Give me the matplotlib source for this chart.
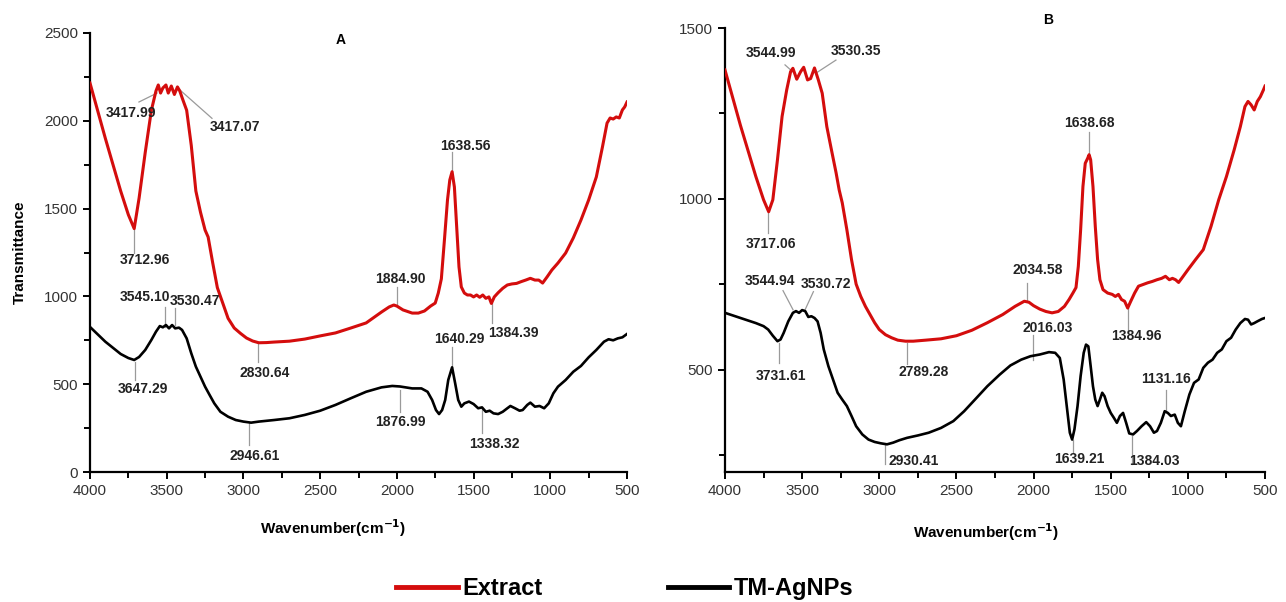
import numpy as np
import matplotlib.pyplot as plt
from matplotlib.lines import Line2D
from matplotlib.ticker import MultipleLocator

plt.rcParams['font.family'] = ['Liberation Sans', 'DejaVu Sans']

# ---- Panel A : Extract (red) ----
a_ext_w = [4000, 3900, 3800, 3750, 3712, 3680, 3640, 3600, 3570, 3555, 3540, 3525, 3505, 3490,
           3470, 3450, 3430, 3415, 3395, 3370, 3340, 3310, 3280, 3250, 3230, 3200, 3170, 3140,
           3100, 3060, 3020, 2980, 2940, 2900, 2850, 2800, 2700, 2600, 2500, 2400, 2300, 2200,
           2100, 2050, 2020, 2000, 1960, 1900, 1860, 1820, 1780, 1750, 1730, 1710, 1690, 1670,
           1655, 1640, 1625, 1610, 1595, 1580, 1560, 1540, 1520, 1500, 1480, 1460, 1440, 1420,
           1400, 1384, 1365, 1340, 1310, 1280, 1250, 1220, 1190, 1160, 1130, 1100, 1075, 1050,
           1020, 990, 950, 900, 850, 800, 750, 700, 660, 630, 610, 590, 570, 550, 530, 515, 500]
a_ext_t = [2215, 1900, 1600, 1465, 1386, 1560, 1820, 2060, 2170, 2204, 2158, 2187, 2204, 2158,
           2198, 2150, 2193, 2170, 2120, 2060, 1860, 1600, 1480, 1378, 1338, 1190, 1050, 975,
           875, 820, 790, 763, 746, 736, 737, 740, 745, 757, 775, 792, 820, 849,
           911, 940, 951, 945, 923, 905, 905, 917, 945, 962, 1019, 1100, 1321, 1549,
           1663, 1710, 1623, 1395, 1168, 1054, 1019, 1008, 1008, 997, 1008, 995, 1008, 989,
           997, 960, 997, 1021, 1046, 1065, 1071, 1074, 1084, 1093, 1103, 1093, 1093, 1076,
           1112, 1150, 1190, 1247, 1333, 1435, 1549, 1680, 1851, 1987, 2016, 2010, 2022, 2016,
           2062, 2079, 2107]

# ---- Panel A : TM-AgNPs (black) ----
a_np_w = [4000, 3900, 3800, 3750, 3712, 3680, 3640, 3600, 3570, 3545, 3525, 3505, 3485, 3465,
          3445, 3420, 3400, 3370, 3340, 3310, 3280, 3250, 3220, 3190, 3150, 3100, 3050, 3000,
          2950, 2900, 2800, 2700, 2600, 2500, 2400, 2300, 2200, 2100, 2030, 1980, 1900, 1840,
          1800, 1770, 1745, 1725, 1705, 1685, 1665, 1640, 1620, 1600, 1580, 1560, 1530, 1500,
          1470, 1445, 1420, 1395, 1370, 1340, 1310, 1280, 1260, 1230, 1200, 1180, 1150, 1130,
          1100, 1070, 1040, 1010, 980, 950, 900, 850, 800, 750, 700, 650, 620, 590, 560, 530, 500]
a_np_t = [826, 742, 672, 649, 638, 655, 695, 752, 799, 831, 824, 837, 818, 837,
          818, 822, 809, 761, 676, 600, 543, 486, 438, 391, 343, 315, 296, 287,
          281, 287, 296, 306, 325, 349, 382, 420, 457, 482, 490, 487, 476, 476,
          457, 410, 353, 330, 353, 410, 524, 596, 505, 410, 372, 391, 401, 387,
          363, 368, 343, 349, 334, 330, 343, 363, 376, 363, 349, 353, 382, 395,
          372, 376, 363, 391, 448, 486, 524, 571, 604, 653, 695, 742, 756, 750, 761, 767, 786]

# ---- Panel B : Extract (red) ----
b_ext_w = [4000, 3900, 3800, 3750, 3717, 3690, 3660, 3630, 3600, 3575, 3560, 3535, 3510, 3490,
           3465, 3445, 3420, 3395, 3370, 3340, 3310, 3280, 3260, 3240, 3210, 3180, 3150, 3120,
           3090, 3060, 3030, 3000, 2960, 2920, 2880, 2830, 2780, 2700, 2600, 2500, 2400, 2300,
           2200, 2120, 2060, 2030, 2000, 1960, 1920, 1880, 1840, 1800, 1770, 1745, 1725, 1710,
           1695, 1680, 1665, 1650, 1640, 1630, 1615, 1600, 1585, 1570, 1550, 1520, 1490, 1470,
           1450, 1430, 1410, 1390, 1370, 1345, 1320, 1290, 1260, 1230, 1200, 1170, 1145, 1120,
           1100, 1080, 1060, 1040, 1000, 950, 900, 850, 800, 750, 700, 660, 630, 610, 590, 570,
           550, 530, 510, 500]
b_ext_t = [1377, 1215, 1065, 997, 962, 997, 1114, 1241, 1319, 1372, 1382, 1350, 1372, 1385,
           1348, 1352, 1383, 1348, 1309, 1211, 1143, 1076, 1026, 988, 909, 822, 750, 714,
           685, 661, 637, 617, 602, 593, 586, 583, 583, 586, 590, 599, 615, 637,
           661, 685, 700, 697, 687, 677, 670, 666, 670, 685, 705, 724, 740, 802,
           909, 1036, 1104, 1118, 1129, 1114, 1036, 919, 822, 763, 734, 724, 720, 714,
           720, 705, 700, 680, 700, 724, 744, 749, 754, 758, 763, 767, 773, 763,
           767, 763, 755, 767, 792, 822, 851, 919, 997, 1065, 1143, 1211, 1270, 1285, 1275, 1260,
           1285, 1299, 1319, 1330]

# ---- Panel B : TM-AgNPs (black) ----
b_np_w = [4000, 3900, 3800, 3750, 3720, 3690, 3660, 3640, 3620, 3590, 3560, 3540, 3520, 3500,
          3480, 3460, 3440, 3420, 3400, 3380, 3360, 3330, 3300, 3270, 3240, 3210, 3180, 3150,
          3110, 3070, 3030, 2990, 2950, 2910, 2870, 2820, 2750, 2680, 2600, 2520, 2450, 2380,
          2300, 2220, 2150, 2080, 2020, 1960, 1900, 1860, 1830, 1805, 1785, 1765, 1750, 1735,
          1715, 1695, 1675, 1660, 1645, 1630, 1615, 1600, 1585, 1570, 1555, 1540, 1520, 1500,
          1480, 1460, 1440, 1420, 1400, 1380, 1355, 1330, 1300, 1270, 1245, 1220, 1200, 1175,
          1150, 1130, 1110, 1085, 1065, 1045, 1020, 990, 960, 930, 900, 870, 840, 810, 780,
          750, 720, 690, 660, 630, 610, 590, 570, 550, 520, 500]
b_np_t = [666, 651, 636, 627, 617, 599, 583, 588, 607, 641, 666, 671, 666, 674,
          671, 654, 656, 651, 641, 607, 559, 510, 471, 432, 412, 393, 364, 334,
          310, 295, 288, 284, 281, 286, 293, 300, 307, 315, 329, 349, 378, 412,
          451, 485, 512, 529, 539, 544, 551, 549, 534, 471, 393, 315, 295, 325,
          393, 481, 549, 573, 568, 510, 451, 412, 393, 412, 432, 422, 393, 373,
          359, 344, 364, 373, 344, 313, 310, 320, 334, 346, 334, 315, 320, 344,
          378, 373, 364, 368, 344, 334, 378, 427, 461, 471, 505, 520, 529, 549, 559,
          583, 593, 617, 636, 648, 646, 632, 636, 641, 648, 651]

# peak labels: text, text x, text y, leader x0, y0, x1, y1
a_labels = [
    ("3417.99", 3733, 2045, 3681, 2107, 3563, 2158),
    ("3417.07", 3055, 1966, 3205, 2014, 3413, 2175),
    ("3712.96", 3642, 1207, 3712, 1384, 3712, 1247),
    ("1638.56", 1556, 1857, 1640, 1822, 1640, 1709),
    ("1884.90", 1979, 1099, 1999, 1054, 1999, 951),
    ("1384.39", 1243, 792, 1380, 962, 1380, 849),
    ("2830.64", 2859, 564, 2905, 740, 2905, 626),
    ("3545.10", 3642, 997, 3510, 940, 3510, 826),
    ("3530.47", 3316, 974, 3446, 934, 3446, 837),
    ("3647.29", 3657, 473, 3707, 626, 3707, 524),
    ("2946.61", 2925, 91, 2964, 279, 2964, 154),
    ("1876.99", 1979, 285, 1979, 467, 1979, 342),
    ("1640.29", 1594, 757, 1640, 712, 1640, 598),
    ("1338.32", 1367, 159, 1445, 364, 1445, 222),
]
b_labels = [
    ("3544.99", 3704, 1427, 3611, 1392, 3559, 1371),
    ("3530.35", 3151, 1433, 3281, 1406, 3410, 1368),
    ("3717.06", 3704, 868, 3723, 959, 3723, 900),
    ("1638.68", 1641, 1222, 1641, 1196, 1641, 1129),
    ("2034.58", 1971, 790, 2043, 754, 2043, 705),
    ("3544.94", 3708, 758, 3624, 731, 3559, 675),
    ("3530.72", 3345, 749, 3427, 728, 3481, 675),
    ("1384.96", 1336, 597, 1390, 681, 1390, 617),
    ("2789.28", 2712, 494, 2821, 579, 2821, 515),
    ("3731.61", 3637, 480, 3651, 579, 3651, 520),
    ("2016.03", 1907, 623, 2006, 602, 2006, 529),
    ("2930.41", 2778, 231, 2963, 281, 2963, 222),
    ("1639.21", 1706, 237, 1747, 295, 1747, 257),
    ("1384.03", 1220, 231, 1364, 304, 1364, 222),
    ("1131.16", 1139, 471, 1139, 441, 1139, 377),
]

RED = '#d40d0d'
LABEL_FONT = ['Liberation Sans Narrow', 'Liberation Sans', 'DejaVu Sans']

fig = plt.figure(figsize=(12.86, 6.02), dpi=100)
axA = fig.add_axes([90 / 1286, 1 - 472 / 602, 537 / 1286, 439 / 602])
axB = fig.add_axes([725 / 1286, 1 - 472 / 602, 540 / 1286, 444 / 602])


def style_axis(ax, ylim):
    ax.set_xlim(4000, 500)
    ax.set_ylim(*ylim)
    for s in ['top', 'right']:
        ax.spines[s].set_visible(False)
    for s in ['left', 'bottom']:
        ax.spines[s].set_linewidth(1.6)
    ax.xaxis.set_major_locator(MultipleLocator(500))
    ax.xaxis.set_minor_locator(MultipleLocator(250))
    ax.yaxis.set_major_locator(MultipleLocator(500))
    ax.yaxis.set_minor_locator(MultipleLocator(250))
    ax.tick_params(which='both', direction='out', width=1.4, length=5, labelsize=11,
                   labelcolor='#333333')
    ax.tick_params(which='minor', length=4)


def draw_labels(ax, labels):
    for txt, tx, ty, x0, y0, x1, y1 in labels:
        ax.plot([x0, x1], [y0, y1], color='#9a9a9a', lw=0.9, zorder=1)
        ax.text(tx, ty, txt, ha='center', va='center', fontsize=10, fontweight='bold',
                family=LABEL_FONT, color='#222222')


for ax, ew, et, nw, nt, labs, ylim in [
        (axA, a_ext_w, a_ext_t, a_np_w, a_np_t, a_labels, (0, 2500)),
        (axB, b_ext_w, b_ext_t, b_np_w, b_np_t, b_labels, (200, 1500))]:
    ax.plot(ew, et, color=RED, lw=2.2, zorder=3, solid_joinstyle='round')
    ax.plot(nw, nt, color='black', lw=1.9, zorder=3, solid_joinstyle='round')
    style_axis(ax, ylim)
    draw_labels(ax, labs)

axA.text(0.466, 0.984, 'A', transform=axA.transAxes, ha='center', va='center',
         fontsize=10, fontweight='bold')
axB.text(0.598, 1.018, 'B', transform=axB.transAxes, ha='center', va='center',
         fontsize=10, fontweight='bold')

axA.text(0.453, -0.127, 'Wavenumber(cm$^{\\mathbf{-1}}$)', transform=axA.transAxes,
         ha='center', va='center', fontsize=11, fontweight='bold')
axB.text(0.483, -0.135, 'Wavenumber(cm$^{\\mathbf{-1}}$)', transform=axB.transAxes,
         ha='center', va='center', fontsize=11, fontweight='bold')
fig.text(20 / 1286, 1 - 252 / 602, 'Transmittance', rotation=90, ha='center', va='center',
         fontsize=11, fontweight='bold')

handles = [Line2D([], [], color=RED, lw=3.5), Line2D([], [], color='black', lw=3.5)]
fig.legend(handles, ['Extract', 'TM-AgNPs'], loc='center', bbox_to_anchor=(0.486, 0.022),
           ncol=2, frameon=False, prop={'size': 17, 'weight': 'bold'},
           handlelength=2.6, handletextpad=0.2, columnspacing=5.3)

fig.savefig('out.png', dpi=100)
